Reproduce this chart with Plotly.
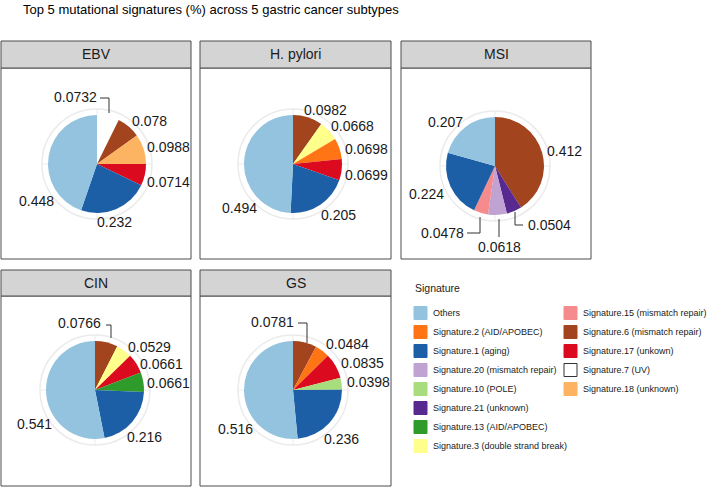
import plotly.graph_objects as go

W, H = 709, 487

# ---------------- data ----------------
title_text = "Top 5 mutational signatures (%) across 5 gastric cancer subtypes"
subtypes = ["EBV", "H. pylori", "MSI", "CIN", "GS"]

ebv_sigs = ["Signature.7 (UV)", "Signature.6 (mismatch repair)", "Signature.18 (unknown)",
            "Signature.17 (unkown)", "Signature.1 (aging)", "Others"]
ebv_vals = [0.0732, 0.078, 0.0988, 0.0714, 0.232, 0.448]

hp_sigs = ["Signature.6 (mismatch repair)", "Signature.3 (double strand break)", "Signature.2 (AID/APOBEC)",
           "Signature.17 (unkown)", "Signature.1 (aging)", "Others"]
hp_vals = [0.0982, 0.0668, 0.0698, 0.0699, 0.205, 0.494]

msi_sigs = ["Signature.6 (mismatch repair)", "Signature.21 (unknown)", "Signature.20 (mismatch repair)",
            "Signature.15 (mismatch repair)", "Signature.1 (aging)", "Others"]
msi_vals = [0.412, 0.0504, 0.0618, 0.0478, 0.224, 0.207]

cin_sigs = ["Signature.6 (mismatch repair)", "Signature.3 (double strand break)", "Signature.17 (unkown)",
            "Signature.13 (AID/APOBEC)", "Signature.1 (aging)", "Others"]
cin_vals = [0.0766, 0.0529, 0.0661, 0.0661, 0.216, 0.541]

gs_sigs = ["Signature.6 (mismatch repair)", "Signature.2 (AID/APOBEC)", "Signature.17 (unkown)",
           "Signature.10 (POLE)", "Signature.1 (aging)", "Others"]
gs_vals = [0.0781, 0.0484, 0.0835, 0.0398, 0.236, 0.516]

legend_order = ["Others", "Signature.2 (AID/APOBEC)", "Signature.1 (aging)",
                "Signature.20 (mismatch repair)", "Signature.10 (POLE)", "Signature.21 (unknown)",
                "Signature.13 (AID/APOBEC)", "Signature.3 (double strand break)",
                "Signature.15 (mismatch repair)", "Signature.6 (mismatch repair)",
                "Signature.17 (unkown)", "Signature.7 (UV)", "Signature.18 (unknown)"]

# ---------------- styles ----------------
colors = {
    "Others": "#93C3DF",
    "Signature.2 (AID/APOBEC)": "#FF7414",
    "Signature.1 (aging)": "#1D5FA6",
    "Signature.20 (mismatch repair)": "#C0A3D2",
    "Signature.10 (POLE)": "#A8DD7E",
    "Signature.21 (unknown)": "#582A90",
    "Signature.13 (AID/APOBEC)": "#2E9B2B",
    "Signature.3 (double strand break)": "#FFFF8C",
    "Signature.15 (mismatch repair)": "#F58B8D",
    "Signature.6 (mismatch repair)": "#A2441D",
    "Signature.17 (unkown)": "#DC0A1E",
    "Signature.7 (UV)": "#FFFFFF",
    "Signature.18 (unknown)": "#FDB462",
}

FONT = "Liberation Sans, Arial, sans-serif"
cols_px = [(1, 191), (200, 391), (401, 591)]
rows_px = [(41, 68, 259), (270, 296, 486)]   # strip top, strip bottom/body top, body bottom
panel_slots = [(0, 0), (0, 1), (0, 2), (1, 0), (1, 1)]
pie_centers = [(97, 164), (293, 164), (495, 166), (95, 390), (293, 390)]
R_PIE, R_RING = 49, 55

# label offsets (px, relative to pie centre) - repel-style placement
label_offsets = [
    [(-22, -67), (52, -43), (71, -17), (71, 18), (17, 58), (-61, 37)],
    [(32, -54), (59, -38), (73, -15), (73, 11), (45, 51), (-53, 44)],
    [(69, -15), (54, 59), (4, 81), (-53, 67), (-68, 28), (-50, -44)],
    [(-16, -67), (54, -43), (66, -26), (73, -7), (49, 47), (-61, 34)],
    [(-21, -68), (54, -46), (69, -27), (75, -8), (48, 49), (-58, 39)],
]
leader_paths = [
    [[(3, -66), (12, -66), (12, -51)]],
    [],
    [[(-28, 67), (-15, 67), (-15, 51)], [(4, 53), (4, 71)], [(20, 46), (20, 59), (28, 59)]],
    [[(11, -65), (16, -65), (16, -52)]],
    [[(5, -67), (14, -67), (14, -47)]],
]

all_sigs = [ebv_sigs, hp_sigs, msi_sigs, cin_sigs, gs_sigs]
all_vals = [ebv_vals, hp_vals, msi_vals, cin_vals, gs_vals]


def px(x):
    return x / W


def py(y):
    return 1 - y / H


fig = go.Figure()
shapes = []
annotations = []

# panels, strips, rings
for i, name in enumerate(subtypes):
    r, c = panel_slots[i]
    x0, x1 = cols_px[c]
    st, sb, bb = rows_px[r]
    shapes.append(dict(type="rect", xref="paper", yref="paper", x0=px(x0), x1=px(x1), y0=py(bb), y1=py(sb),
                       line=dict(color="#4D4D4D", width=1), fillcolor="white", layer="below"))
    shapes.append(dict(type="rect", xref="paper", yref="paper", x0=px(x0), x1=px(x1), y0=py(sb), y1=py(st),
                       line=dict(color="#4D4D4D", width=1), fillcolor="#D4D4D4", layer="below"))
    annotations.append(dict(x=px((x0 + x1) / 2), y=py((st + sb) / 2), xref="paper", yref="paper",
                            text=name, showarrow=False, font=dict(family=FONT, size=14, color="#1A1A1A"),
                            xanchor="center", yanchor="middle"))
    cx, cy = pie_centers[i]
    # outer ring
    shapes.append(dict(type="circle", xref="paper", yref="paper",
                       x0=px(cx - R_RING), x1=px(cx + R_RING), y0=py(cy + R_RING), y1=py(cy - R_RING),
                       line=dict(color="#EBEBEB", width=1.5), layer="below"))
    shapes.append(dict(type="circle", xref="paper", yref="paper",
                       x0=px(cx - 25), x1=px(cx + 25), y0=py(cy + 25), y1=py(cy - 25),
                       line=dict(color="#EBEBEB", width=1), layer="below"))
    for dx, dy in [(0, -1), (1, 0), (0, 1), (-1, 0)]:
        shapes.append(dict(type="line", xref="paper", yref="paper",
                           x0=px(cx), y0=py(cy), x1=px(cx + dx * R_RING), y1=py(cy + dy * R_RING),
                           line=dict(color="#EBEBEB", width=1), layer="below"))

    sigs, vals = all_sigs[i], all_vals[i]
    fig.add_trace(go.Pie(
        labels=sigs, values=vals, sort=False, direction="clockwise", rotation=0,
        marker=dict(colors=[colors[s] for s in sigs], line=dict(width=0)),
        textinfo="none", showlegend=False, name=name,
        domain=dict(x=[px(cx - R_PIE), px(cx + R_PIE)], y=[py(cy + R_PIE), py(cy - R_PIE)]),
        hovertemplate="%{label}: %{value}<extra>" + name + "</extra>",
    ))
    for v, (ox, oy) in zip(vals, label_offsets[i]):
        annotations.append(dict(x=px(cx + ox), y=py(cy + oy), xref="paper", yref="paper",
                                text=f"{v:g}", showarrow=False,
                                font=dict(family=FONT, size=14, color="#1A1A1A"),
                                xanchor="center", yanchor="middle"))
    for path in leader_paths[i]:
        d = "M " + " L ".join(f"{px(cx + a)},{py(cy + b)}" for a, b in path)
        shapes.append(dict(type="path", xref="paper", yref="paper", path=d,
                           line=dict(color="#333333", width=1)))

# legend (ggplot-style, column-major, 8 rows)
annotations.append(dict(x=px(413), y=py(288), xref="paper", yref="paper", text="Signature",
                        showarrow=False, font=dict(family=FONT, size=10.5, color="#1A1A1A"),
                        xanchor="left", yanchor="middle"))
key_x = [414, 564]
txt_x = [431, 581]
for k, s in enumerate(legend_order):
    col, row = divmod(k, 8)
    yc = 313 + row * 19
    kx = key_x[col]
    outline = "#333333" if colors[s].upper() == "#FFFFFF" else colors[s]
    shapes.append(dict(type="rect", xref="paper", yref="paper", x0=px(kx), x1=px(kx + 13),
                       y0=py(yc + 6.5), y1=py(yc - 6.5), fillcolor=colors[s],
                       line=dict(color=outline, width=1)))
    annotations.append(dict(x=px(txt_x[col]), y=py(yc), xref="paper", yref="paper", text=s,
                            showarrow=False, font=dict(family=FONT, size=9, color="#1A1A1A"),
                            xanchor="left", yanchor="middle"))

# title
annotations.append(dict(x=px(21), y=py(10), xref="paper", yref="paper", text=title_text,
                        showarrow=False, font=dict(family=FONT, size=13, color="#000000"),
                        xanchor="left", yanchor="middle"))

fig.update_layout(width=W, height=H, margin=dict(l=0, r=0, t=0, b=0),
                  paper_bgcolor="white", plot_bgcolor="white",
                  shapes=shapes, annotations=annotations, showlegend=False)

fig.write_html("out.html", config={"displayModeBar": False},
               post_script="document.body.style.margin='0px';")
